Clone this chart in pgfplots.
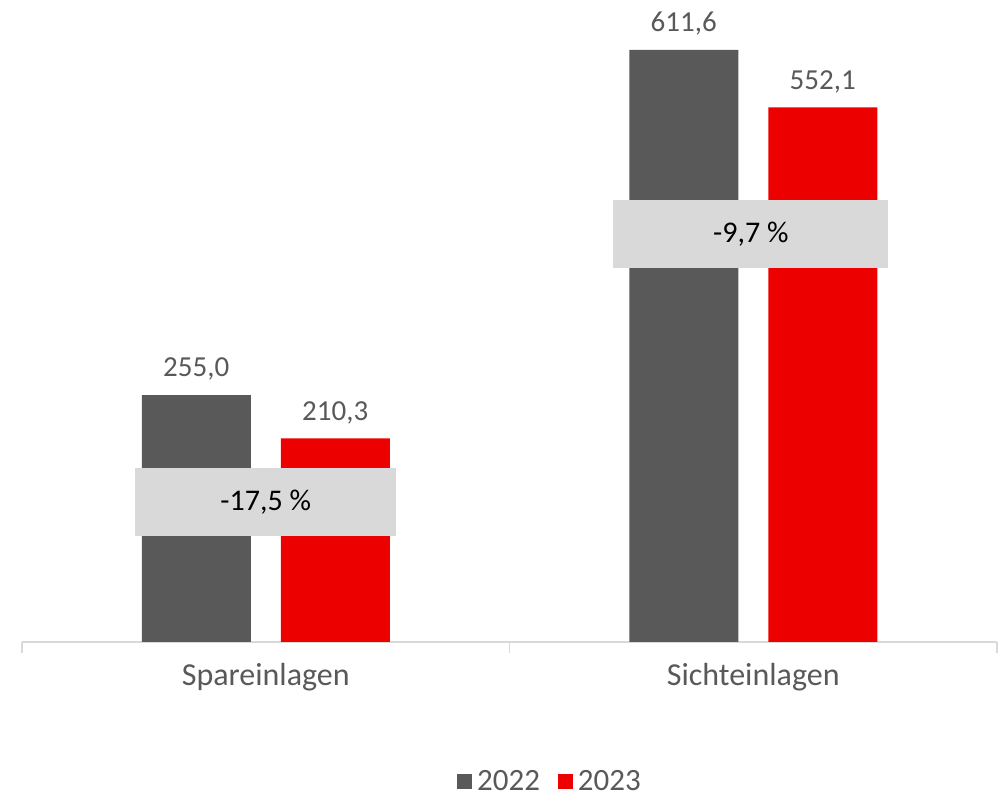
\documentclass[border=0pt]{standalone}
\usepackage{fontspec}
\setmainfont{Carlito}
\usepackage{pgfplots}
\pgfplotsset{compat=1.18}
\definecolor{bargray}{HTML}{595959}
\definecolor{barred}{HTML}{EC0000}
\definecolor{boxgray}{HTML}{D9D9D9}
\definecolor{txtgray}{HTML}{595959}
\definecolor{axgray}{HTML}{D9D9D9}
\begin{document}
\begin{tikzpicture}
\useasboundingbox (-22pt,-158pt) rectangle (983pt,642pt);
\begin{axis}[
  scale only axis,
  width=975pt, height=642pt,
  xmin=-0.5, xmax=1.5, ymin=0, ymax=663,
  hide y axis,
  axis x line*=bottom,
  x axis line style={color=axgray, line width=1.5pt, -},
  xtick={0,1},
  xticklabels={Spareinlagen, Sichteinlagen},
  major tick length=0pt,
  minor xtick={-0.5,0.5,1.5},
  minor tick length=11pt,
  tick align=outside,
  xtick pos=bottom,
  minor tick style={color=axgray, line width=1.5pt},
  x tick label style={font=\fontsize{32}{36}\selectfont, color=txtgray, yshift=-18pt},
  ybar,
  bar width=109pt,
  /pgf/number format/assume math mode=true,
  nodes near coords={\pgfmathprintnumber[fixed, fixed zerofill, precision=1, use comma]{\pgfplotspointmeta}},
  nodes near coords style={font=\fontsize{29}{32}\selectfont, color=txtgray, anchor=south, yshift=11pt},
  legend columns=2,
  legend style={at={(0.541,-0.217)}, anchor=center, draw=none, fill=none,
    font=\fontsize{31}{34}\selectfont, text=txtgray,
    /tikz/every even column/.append style={column sep=17pt},
    /tikz/every odd column/.append style={column sep=4pt},
    nodes={inner sep=1pt}},
  legend image code/.code={\fill[#1] (0pt,-7.5pt) rectangle (15pt,7.5pt);},
  clip=false,
]
\addplot[fill=bargray, draw=none, bar shift=-69.5pt] coordinates {(0,255.0) (1,611.6)};
\addplot[fill=barred, draw=none, bar shift=69.5pt] coordinates {(0,210.3) (1,552.1)};
\legend{2022, 2023}
\node[fill=boxgray, minimum width=261pt, minimum height=68pt, inner sep=0pt,
  font=\fontsize{30}{34}\selectfont, text=black] at (axis cs:0,144.5) {-17,5 \%};
\node[fill=boxgray, minimum width=275pt, minimum height=68pt, inner sep=0pt,
  font=\fontsize{30}{34}\selectfont, text=black] at (axis cs:0.995,421) {-9,7 \%};
\end{axis}
\end{tikzpicture}
\end{document}
